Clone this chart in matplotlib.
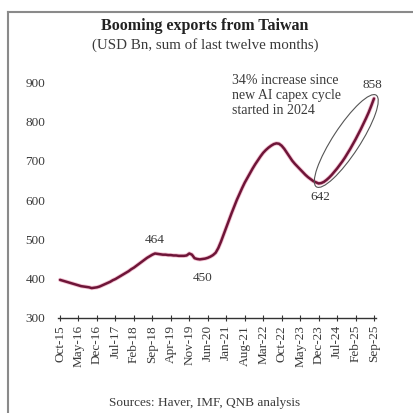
import matplotlib
matplotlib.use("Agg")
import matplotlib.pyplot as plt
from matplotlib.patches import Ellipse
from matplotlib.transforms import IdentityTransform
import numpy as np

# monthly exports, USD bn (12m sum), Oct-15 .. Sep-25
exports = [
    397, 395, 393, 391, 389, 387, 385, 383, 381, 380, 379, 378,
    376, 377, 378, 380, 383, 386, 389, 392, 396, 399, 403, 407,
    411, 415, 419, 424, 428, 433, 438, 443, 448, 453, 457, 461,
    464, 463, 462, 461, 461, 460, 460, 459, 459, 458, 458, 458,
    459, 464, 461, 452, 450, 449, 450, 451, 453, 456, 460, 466,
    478, 494, 512, 530, 548, 566, 583, 600, 615, 630, 644, 656,
    668, 680, 691, 701, 711, 720, 727, 733, 738, 742, 744, 743,
    738, 730, 720, 710, 700, 692, 685, 678, 671, 664, 658, 653,
    648, 645, 642, 643, 646, 651, 657, 664, 672, 680, 689, 698,
    708, 719, 730, 742, 754, 767, 780, 794, 808, 823, 840, 858,
]
tick_labels = ["Oct-15", "May-16", "Dec-16", "Jul-17", "Feb-18", "Sep-18",
               "Apr-19", "Nov-19", "Jun-20", "Jan-21", "Aug-21", "Mar-22",
               "Oct-22", "May-23", "Dec-23", "Jul-24", "Feb-25", "Sep-25"]
# labelled points: (month index, value)
callouts = [(36, 464), (52, 450), (98, 642), (119, 858)]

plt.rcParams["font.family"] = ["Liberation Serif", "DejaVu Serif"]
txt = "#3a3a3a"

fig = plt.figure(figsize=(4.13, 4.13), dpi=100)
ax = fig.add_axes([58 / 413, 1 - 318 / 413, 318 / 413, 236 / 413])

x = np.arange(len(exports))
ax.plot(x, exports, color="#e05080", lw=3.0, alpha=0.35, solid_capstyle="round")
ax.plot(x, exports, color="#6e1538", lw=1.8, solid_capstyle="round")

ax.set_xlim(-0.76, len(exports) - 1 + 0.76)
ax.set_ylim(300, 900)
ax.set_yticks(range(300, 901, 100))
ax.set_xticks(range(0, len(exports), 7))
ax.set_xticklabels(tick_labels, rotation=90)
ax.tick_params(axis="y", length=0, pad=9, labelsize=9.5, labelcolor=txt)
ax.tick_params(axis="x", length=4, direction="inout", width=0.8,
               color="#333333", pad=3, labelsize=9.5, labelcolor=txt)
for s in ["left", "right", "top"]:
    ax.spines[s].set_visible(False)
ax.spines["bottom"].set_color("#333333")
ax.spines["bottom"].set_linewidth(1.0)

# point labels
offs = {36: (0, 10), 52: (4, -14), 98: (1, -10), 119: (-1, 10)}
for i, v in callouts:
    dx, dy = offs[i]
    ax.annotate(str(v), (i, v), xytext=(dx, dy), textcoords="offset points",
                ha="center", va="center", fontsize=9.5, color=txt)

ax.text(0.547, 1.035, "34% increase since\nnew AI capex cycle\nstarted in 2024",
        transform=ax.transAxes, ha="left", va="top", fontsize=10,
        color=txt, linespacing=1.22)

# ellipse around the 2024-25 rise, in pixel space
fig.canvas.draw()
p1 = ax.transData.transform((98, 642))
p2 = ax.transData.transform((119, 858))
c = (p1 + p2) / 2
d = p2 - p1
ang = np.degrees(np.arctan2(d[1], d[0]))
ell = Ellipse(c, np.hypot(*d) + 8, 27, angle=ang, fill=False,
              edgecolor="#555555", lw=0.8, transform=IdentityTransform())
fig.patches.append(ell)

fig.text(205 / 413, 1 - 26 / 413, "Booming exports from Taiwan",
         ha="center", va="center", fontsize=11.5, fontweight="bold", color="#222222")
fig.text(205 / 413, 1 - 45 / 413, "(USD Bn, sum of last twelve months)",
         ha="center", va="center", fontsize=10.8, color=txt)
fig.text(205 / 413, 1 - 403 / 413, "Sources: Haver, IMF, QNB analysis",
         ha="center", va="center", fontsize=9.5, color=txt)

# frame
fig.add_artist(plt.Line2D([8 / 413, 8 / 413], [0, 1 - 12 / 413],
                          transform=fig.transFigure, color="#8a8a8a", lw=1.5))
fig.add_artist(plt.Line2D([8 / 413, 1], [1 - 12 / 413, 1 - 12 / 413],
                          transform=fig.transFigure, color="#8a8a8a", lw=1.5))

fig.savefig("out.png", dpi=100)
